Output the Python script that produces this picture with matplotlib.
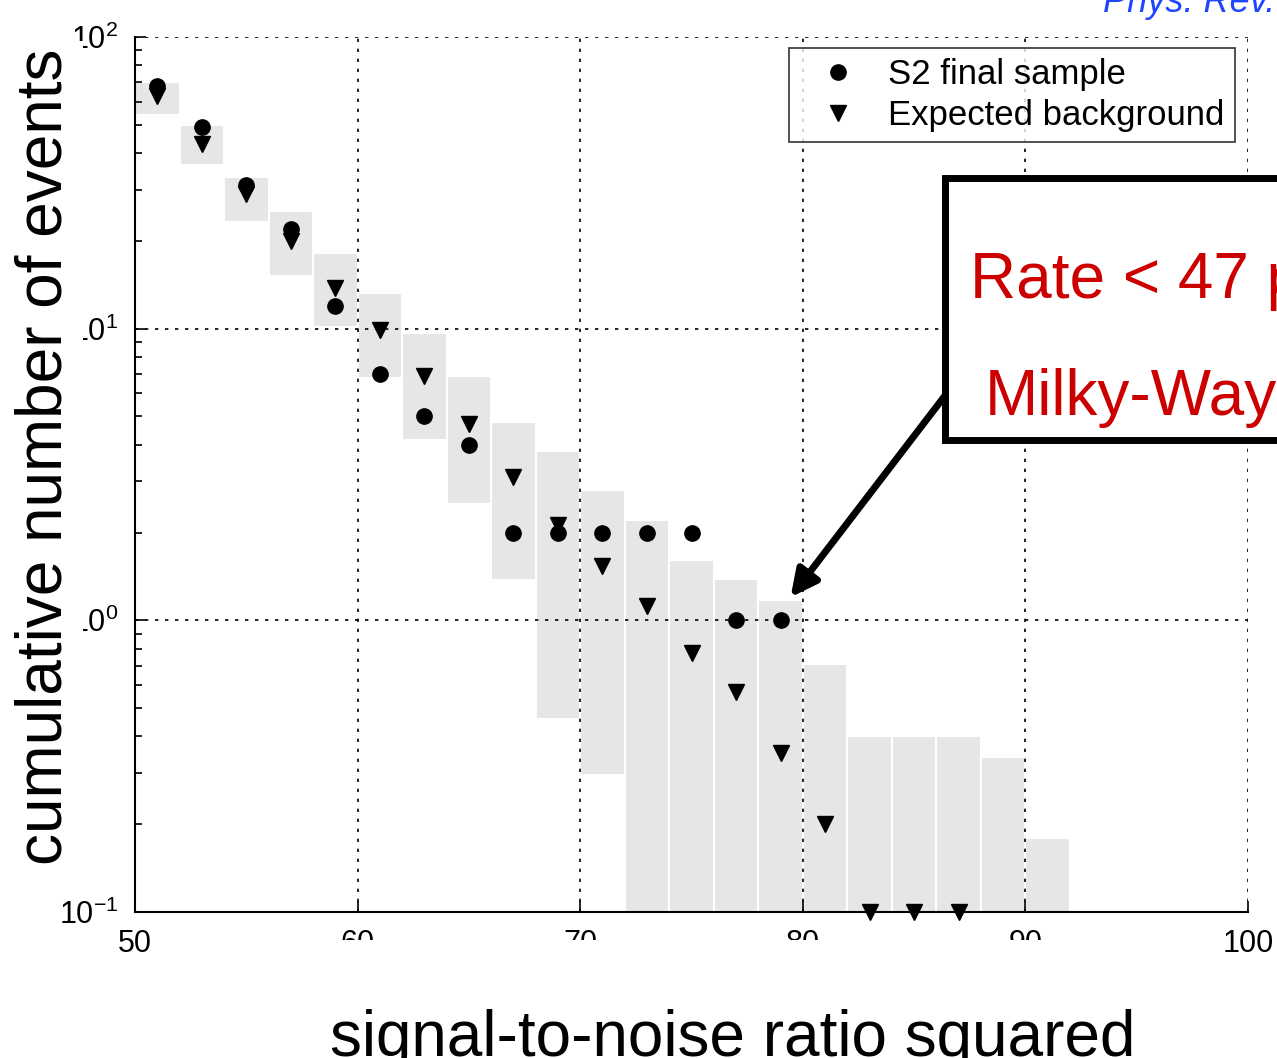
import numpy as np
import matplotlib.pyplot as plt
from matplotlib.patches import Rectangle
from matplotlib.ticker import LogLocator, NullFormatter

plt.rcParams['font.family'] = ['Liberation Sans', 'DejaVu Sans']
plt.rcParams['mathtext.fontset'] = 'custom'
plt.rcParams['mathtext.rm'] = 'Liberation Sans'
plt.rcParams['mathtext.it'] = 'Liberation Sans:italic'

# --- data ---
snr2 = [51, 53, 55, 57, 59, 61, 63, 65, 67, 69, 71, 73, 75, 77, 79,
        81, 83, 85, 87, 89, 91]
observed = [68, 49, 31, 22, 12, 7, 5, 4, 2, 2, 2, 2, 2, 1, 1]
expected = [63, 43, 29, 20, 13.8, 9.9, 6.9, 4.7, 3.1, 2.12, 1.54, 1.12,
            0.77, 0.57, 0.35, 0.20, 0.1, 0.1, 0.1]
band_hi = [70, 50, 33, 25.3, 18.2, 13.2, 9.7, 6.9, 4.8, 3.8, 2.8, 2.21,
           1.61, 1.39, 1.17, 0.71, 0.40, 0.40, 0.40, 0.34, 0.18]
band_lo = [54, 36.4, 23.2, 15.2, 10.1, 6.8, 4.15, 2.5, 1.38, 0.46, 0.295,
           0.01, 0.01, 0.01, 0.01, 0.01, 0.01, 0.01, 0.01, 0.01, 0.01]

W, H = 1277, 1058
fig = plt.figure(figsize=(W / 100, H / 100), dpi=100)
ax = fig.add_axes([135 / W, 1 - 912 / H, (1248 - 135) / W, (912 - 37) / H])

# --- grey uncertainty bands ---
lo = np.array(band_lo)
hi = np.array(band_hi)
ax.bar(snr2, hi - lo, bottom=lo, width=2, color='#e6e6e6',
       edgecolor='white', linewidth=1.5, zorder=1)

# --- points ---
ax.plot(snr2[:len(observed)], observed, 'o', color='black', ms=11,
        label='S2 final sample', zorder=3, clip_on=False)
ax.plot(snr2[:len(expected)], expected, 'v', color='black', ms=12,
        label='Expected background', zorder=3, clip_on=False)

ax.set_yscale('log')
ax.set_xlim(50, 100)
ax.set_ylim(0.1, 100)
ax.set_xticks([50, 60, 70, 80, 90, 100])
ax.set_yticks([0.1, 1, 10, 100])
ax.set_yticklabels([r'$10^{-1}$', r'$10^{0}$', r'$10^{1}$', r'$10^{2}$'])
ax.yaxis.set_minor_locator(LogLocator(base=10, subs=np.arange(2, 10)))
ax.yaxis.set_minor_formatter(NullFormatter())
ax.tick_params(which='both', direction='in', labelsize=22, width=1.2,
               right=False, top=False)
ax.tick_params(which='major', length=8, pad=12)
ax.tick_params(which='minor', length=5)

for s in ['top', 'right']:
    ax.spines[s].set_visible(False)
for s in ['left', 'bottom']:
    ax.spines[s].set_linewidth(1.5)

ax.set_axisbelow(False)
ax.grid(True, which='major', color='black', linestyle=(0, (2, 4)), lw=1.2)

leg = ax.legend(loc='upper right', bbox_to_anchor=(0.9883, 0.9874),
                borderaxespad=0, fontsize=25, frameon=True, fancybox=False,
                edgecolor='black', handletextpad=0.35, labelspacing=0.22,
                borderpad=0.3, handlelength=2.2)
leg.get_frame().set_linewidth(1.2)
leg.set_zorder(5)

# --- axis titles (slide text with white boxes over the tick labels) ---
fig.text(45 / W, 1 - 457 / H, 'cumulative number of events', rotation=90,
         ha='center', va='center', fontsize=46,
         bbox=dict(fc='white', ec='none', pad=6))
fig.add_artist(Rectangle((165 / W, 0), (1225 - 165) / W, (H - 940) / H,
                         transform=fig.transFigure, fc='white', ec='none',
                         zorder=4))
fig.text(733 / W, 1 - 1056 / H, 'signal-to-noise ratio squared',
         ha='center', va='baseline', fontsize=46, zorder=5)

# --- reference and callout ---
fig.text(1103 / W, 1 - 12 / H, 'Phys. Rev.', color='#1f45ff',
         style='italic', fontsize=26, ha='left', va='baseline')

fig.add_artist(Rectangle((945 / W, 1 - 440 / H), 0.5, (440 - 178) / H,
                         transform=fig.transFigure, fc='white', ec='black',
                         lw=5, zorder=6))
fig.text(970 / W, 1 - 298 / H, 'Rate < 47 per', color='#cc0000',
         fontsize=46, ha='left', va='baseline', zorder=7)
fig.text(985 / W, 1 - 415 / H, 'Milky-Way', color='#cc0000',
         fontsize=46, ha='left', va='baseline', zorder=7)

ax.annotate('', xy=(79.45, 1.2), xycoords='data',
            xytext=(947 / W, 1 - 393 / H), textcoords='figure fraction',
            arrowprops=dict(arrowstyle='-|>', color='black', lw=5,
                            mutation_scale=40, shrinkA=0, shrinkB=0),
            zorder=6)

fig.savefig('out.png', dpi=100)
